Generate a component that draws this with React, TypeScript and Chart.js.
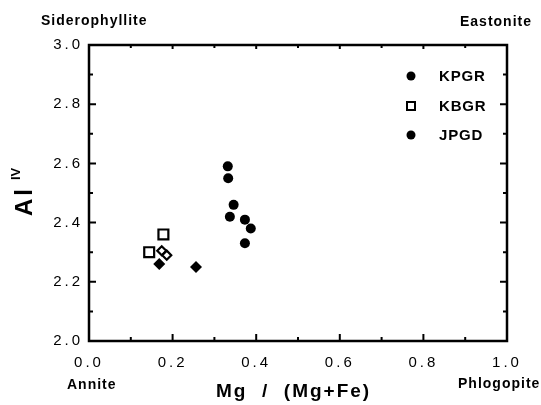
import React, { useEffect, useRef } from "react";
import { Chart, registerables } from "chart.js";

Chart.register(...registerables);

// ---- data ----
const seriesNames = ["KPGR", "KBGR", "JPGD"];
const kpgrX = [0.168, 0.256];
const kpgrY = [2.26, 2.25];
const kbgrX = [0.178, 0.144, 0.174, 0.186];
const kbgrY = [2.36, 2.3, 2.305, 2.29];
const kbgrStyles = ["rect", "rect", "rectRot", "rectRot"];
const kbgrRadii = [7, 7, 4.5, 4.5];
const jpgdX = [0.332, 0.333, 0.346, 0.337, 0.373, 0.387, 0.373];
const jpgdY = [2.59, 2.55, 2.46, 2.42, 2.41, 2.38, 2.33];

const xMin = 0;
const xMax = 1;
const yMin = 2;
const yMax = 3;
const majorStep = 0.2;
const minorStep = 0.1;

const endMembers = ["Siderophyllite", "Eastonite", "Annite", "Phlogopite"];
const xTitle = "Mg  /  (Mg+Fe)";
const yTitleMain = "Al";
const yTitleSup = "IV";

const FONT = "'Liberation Sans', Arial, Helvetica, sans-serif";

function pts(xs: number[], ys: number[]) {
  return xs.map((x, i) => ({ x, y: ys[i] }));
}

const framePlugin = {
  id: "frame",
  beforeDraw(chart: any) {
    chart.ctx.letterSpacing = "3px";
  },
  afterDraw(chart: any) {
    const ctx = chart.ctx as CanvasRenderingContext2D;
    const { left, right, top, bottom } = chart.chartArea;
    const xs = chart.scales.x;
    const ys = chart.scales.y;
    ctx.save();
    ctx.letterSpacing = "0px";
    ctx.strokeStyle = "#000";
    ctx.lineWidth = 2.5;
    ctx.strokeRect(left, top, right - left, bottom - top);

    // inward tick marks
    ctx.lineWidth = 2;
    const nX = Math.round((xMax - xMin) / minorStep);
    for (let i = 1; i < nX; i++) {
      const v = xMin + i * minorStep;
      const major = i % 2 === 0;
      const p = xs.getPixelForValue(v);
      const len = major ? 7 : 4;
      ctx.beginPath();
      ctx.moveTo(p, bottom);
      ctx.lineTo(p, bottom - len);
      ctx.moveTo(p, top);
      ctx.lineTo(p, top + (major ? 4 : 3));
      ctx.stroke();
    }
    const nY = Math.round((yMax - yMin) / minorStep);
    for (let i = 1; i < nY; i++) {
      const v = yMin + i * minorStep;
      const major = i % 2 === 0;
      const p = ys.getPixelForValue(v);
      const len = major ? 7 : 4;
      ctx.beginPath();
      ctx.moveTo(left, p);
      ctx.lineTo(left + len, p);
      ctx.moveTo(right, p);
      ctx.lineTo(right - len, p);
      ctx.stroke();
    }

    // legend
    const lx = 411;
    const ly = [76, 106, 135];
    ctx.fillStyle = "#000";
    ctx.font = `bold 15px ${FONT}`;
    ctx.textBaseline = "middle";
    ctx.textAlign = "left";
    ctx.letterSpacing = "0.8px";
    seriesNames.forEach((name, i) => {
      const y = ly[i];
      ctx.lineWidth = 2;
      if (i === 1) {
        ctx.fillStyle = "#fff";
        ctx.fillRect(lx - 4, y - 4, 8, 8);
        ctx.strokeRect(lx - 4, y - 4, 8, 8);
        ctx.fillStyle = "#000";
      } else {
        ctx.beginPath();
        ctx.arc(lx, y, 4.5, 0, Math.PI * 2);
        ctx.fill();
      }
      ctx.fillText(name, 439, y + 1);
    });

    // end-member labels
    ctx.font = `bold 14px ${FONT}`;
    ctx.letterSpacing = "1px";
    ctx.textAlign = "left";
    ctx.fillText(endMembers[0], 41, 21);
    ctx.fillText(endMembers[1], 460, 22);
    ctx.fillText(endMembers[2], 67, 385);
    ctx.fillText(endMembers[3], 458, 384);

    // x title
    ctx.font = `bold 19px ${FONT}`;
    ctx.letterSpacing = "2px";
    ctx.textAlign = "left";
    ctx.textBaseline = "alphabetic";
    ctx.fillText(xTitle, 216, 397);

    // y title (rotated)
    ctx.save();
    ctx.translate(32, 216);
    ctx.rotate(-Math.PI / 2);
    ctx.textAlign = "left";
    ctx.textBaseline = "alphabetic";
    ctx.font = `bold 24px ${FONT}`;
    ctx.letterSpacing = "3px";
    ctx.fillText(yTitleMain, 0, 0);
    const w = ctx.measureText(yTitleMain).width;
    ctx.font = `bold 13px ${FONT}`;
    ctx.letterSpacing = "0px";
    ctx.fillText(yTitleSup, w + 6, -12);
    ctx.restore();

    ctx.restore();
  },
};

export default function App() {
  const ref = useRef<HTMLCanvasElement | null>(null);
  useEffect(() => {
    document.body.style.margin = "0";
    const canvas = ref.current!;
    const chart = new Chart(canvas, {
      type: "scatter",
      data: {
        datasets: [
          {
            label: seriesNames[0],
            data: pts(kpgrX, kpgrY),
            pointStyle: "rectRot",
            pointRadius: 6,
            backgroundColor: "#000",
            borderColor: "#000",
            borderWidth: 0,
          },
          {
            label: seriesNames[1],
            data: pts(kbgrX, kbgrY),
            pointStyle: kbgrStyles as any,
            pointRadius: kbgrRadii,
            backgroundColor: "#fff",
            borderColor: "#000",
            borderWidth: 2.2,
          },
          {
            label: seriesNames[2],
            data: pts(jpgdX, jpgdY),
            pointStyle: "circle",
            pointRadius: 5,
            backgroundColor: "#000",
            borderColor: "#000",
            borderWidth: 0,
          },
        ],
      },
      options: {
        responsive: false,
        animation: false,
        events: [],
        layout: { padding: { top: 45, right: 34, left: 0, bottom: 0 } },
        plugins: {
          legend: { display: false },
          tooltip: { enabled: false },
        },
        scales: {
          x: {
            type: "linear",
            min: xMin,
            max: xMax,
            afterFit: (s: any) => {
              s.height = 64;
            },
            grid: { display: false, drawTicks: false },
            border: { display: false },
            ticks: {
              stepSize: majorStep,
              autoSkip: false,
              maxRotation: 0,
              padding: 13,
              color: "#000",
              font: { family: FONT, size: 15 },
              callback: (v: any) => Number(v).toFixed(1),
            },
          },
          y: {
            type: "linear",
            min: yMin,
            max: yMax,
            afterFit: (s: any) => {
              s.width = 89;
            },
            grid: { display: false, drawTicks: false },
            border: { display: false },
            ticks: {
              stepSize: majorStep,
              autoSkip: false,
              padding: 6,
              color: "#000",
              font: { family: FONT, size: 15 },
              callback: (v: any) => Number(v).toFixed(1),
            },
          },
        },
      },
      plugins: [framePlugin],
    });
    return () => chart.destroy();
  }, []);
  return (
    <div style={{ width: 541, height: 405, background: "#fff" }}>
      <canvas ref={ref} width={541} height={405} style={{ display: "block" }} />
    </div>
  );
}
